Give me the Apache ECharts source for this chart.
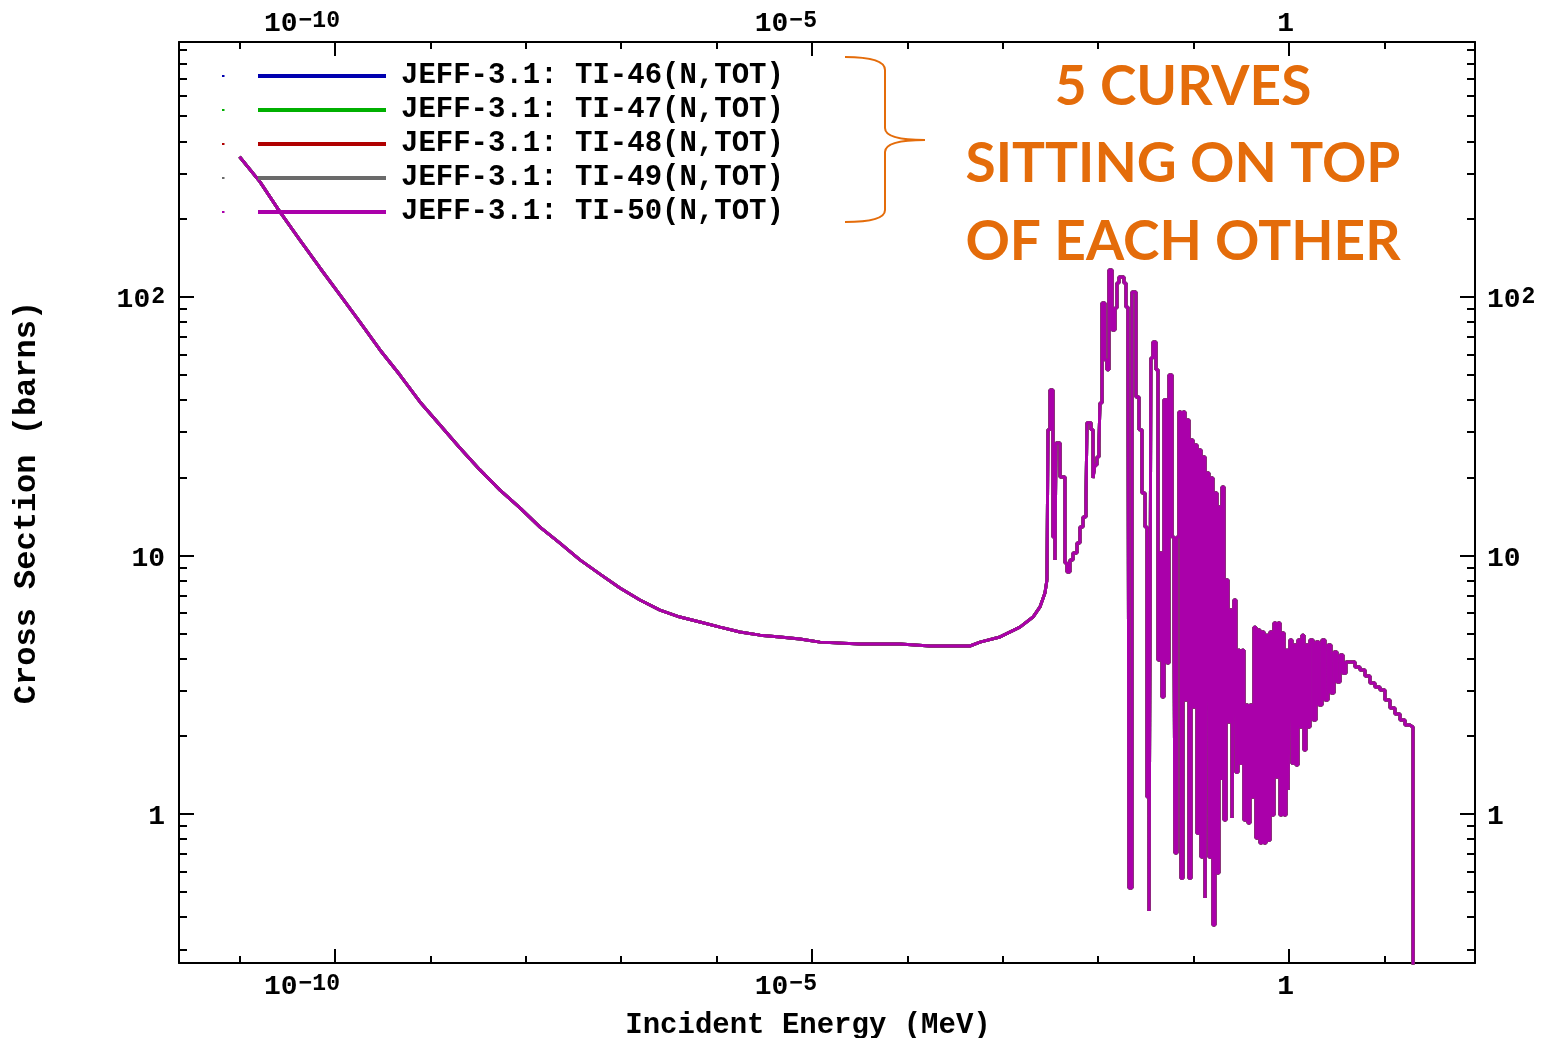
<!DOCTYPE html>
<html>
<head>
<meta charset="utf-8">
<script src="https://cdn.jsdelivr.net/npm/echarts@6/dist/echarts.min.js"></script>
<style>html,body{margin:0;padding:0;background:#fff}#c{width:1545px;height:1038px}</style>
</head>
<body>
<div id="c"></div>
<script>
// log10 of incident energy (MeV) along the traced curve
const logEnergy = [
-11.000,-10.786,-10.577,-10.367,-10.157,-9.948,-9.738,-9.528,-9.319,-9.109,-8.899,-8.690,-8.480,-8.270,-8.061,-7.851,-7.642,-7.432,-7.222,-7.013,-6.803,-6.593,-6.384,-6.174,-5.964,-5.755,-5.545,-5.335,-5.126,-4.916,-4.497,-4.078,-3.763,-3.344,-3.239,-3.029,-2.820,-2.683,-2.610,-2.558,-2.537,
-2.526,-2.505,-2.474,-2.453,-2.442,-2.400,-2.348,-2.327,-2.296,-2.264,-2.222,-2.191,-2.159,-2.128,-2.117,-2.075,-2.054,-2.034,-2.013,-1.992,
-1.981,-1.960,-1.929,-1.908,-1.887,-1.855,-1.824,-1.803,-1.782,-1.730,-1.709,-1.688,-1.677,-1.646,-1.604,-1.572,-1.541,-1.509,-1.488,-1.467,
-1.447,-1.426,-1.394,-1.373,-1.352,-1.331,-1.310,-1.279,-1.258,-1.226,-1.205,-1.195,-1.174,-1.153,-1.132,-1.111,-1.090,-1.069,-1.048,-1.027,
-1.006,-0.985,-0.964,-0.943,-0.922,-0.901,-0.880,-0.860,-0.839,-0.818,-0.797,-0.776,-0.755,-0.734,-0.713,-0.702,-0.681,-0.660,-0.639,-0.618,
-0.597,-0.577,-0.556,-0.535,-0.514,-0.493,-0.472,-0.451,-0.430,-0.409,-0.388,-0.367,-0.346,-0.325,-0.304,-0.283,-0.262,-0.241,-0.220,-0.199,
-0.178,-0.157,-0.136,-0.115,-0.094,-0.073,-0.052,-0.031,-0.010,0.010,0.031,0.052,0.073,0.094,0.115,0.136,0.157,0.178,0.199,0.220,
0.252,0.283,0.314,0.346,0.377,0.409,0.440,0.472,0.503,0.535,0.566,0.597,0.639,0.692,0.744,0.797,0.849,0.901,0.954,1.006,
1.059,1.111,1.164,1.216,1.268,1.300,1.301
];
// log10 of total cross section (barns)
const logSigma = [
2.542,2.445,2.329,2.220,2.112,2.008,1.903,1.795,1.698,1.594,1.505,1.416,1.331,1.253,1.184,1.110,1.048,0.983,0.928,0.874,0.828,0.789,0.762,0.743,0.723,0.704,0.692,0.685,0.677,0.665,0.658,0.658,0.650,0.650,0.665,0.685,0.723,0.762,0.801,0.855,0.905,
1.486,1.640,1.072,0.983,1.435,1.304,0.971,0.936,0.983,1.010,1.048,1.110,1.149,1.226,1.513,1.486,1.300,1.350,1.381,1.435,
1.590,1.977,1.756,1.718,2.104,1.872,1.957,2.054,2.077,2.054,1.961,1.834,-0.286,2.019,1.613,1.486,1.242,1.110,0.066,-0.375,
1.764,1.826,1.718,0.596,1.010,0.453,1.602,0.584,1.698,1.072,0.700,-0.151,1.072,1.555,-0.248,1.555,0.441,1.524,-0.248,1.447,
0.414,1.427,-0.074,1.408,-0.166,1.381,-0.325,1.319,-0.166,1.300,-0.429,1.242,-0.228,1.188,0.132,1.265,-0.023,0.905,0.356,0.789,
-0.015,0.828,0.162,0.634,0.197,0.634,-0.023,0.422,-0.035,0.422,0.066,0.723,-0.093,0.712,-0.112,0.704,-0.112,0.692,-0.101,0.704,
-0.004,0.739,0.143,0.739,-0.004,0.700,-0.004,0.634,0.093,0.673,0.197,0.654,0.190,0.673,0.337,0.692,0.248,0.654,0.337,0.673,
0.364,0.665,0.422,0.673,0.441,0.654,0.468,0.627,0.511,0.615,0.545,0.588,0.588,0.569,0.557,0.534,0.507,0.491,0.480,0.441,
0.410,0.387,0.364,0.344,0.337,0.337,-1.000
];
// index where the smooth (thermal/1-over-v) part ends and the resonance histogram begins
const RESONANCE_START = 40;
const seriesNames = [
  'JEFF-3.1: TI-46(N,TOT)',
  'JEFF-3.1: TI-47(N,TOT)',
  'JEFF-3.1: TI-48(N,TOT)',
  'JEFF-3.1: TI-49(N,TOT)',
  'JEFF-3.1: TI-50(N,TOT)'
];
const seriesColors = ['#0000b0', '#00b000', '#b00000', '#6a6a6a', '#aa00aa'];
// axis ticks (log10 decades)
const xMajorTicks = [-10, -5, 0];
const xMinorTicks = [-11, -9, -8, -7, -6, -4, -3, -2, -1, 1];
const yMajorTicks = [0, 1, 2];
const yMinorMultipliers = [2, 3, 4, 5, 6, 7, 8, 9];
const yDecades = [-1, 0, 1, 2];
const annotationLines = ['5 CURVES', 'SITTING ON TOP', 'OF EACH OTHER'];

const X_MIN = -11.635, X_MAX = 1.95, Y_MIN = -0.576, Y_MAX = 2.986;
const yMinorTicks = [];
yDecades.forEach(d => yMinorMultipliers.forEach(m => {
  const v = d + Math.log10(m);
  if (v > Y_MIN && v < Y_MAX) yMinorTicks.push(v);
}));

const MONO = 'Liberation Mono';
function powLabel(v) {
  v = Math.round(v);
  if (v === 0) return '{b|1}';
  if (v === 1) return '{b|10}';
  const e = v < 0 ? '\u2212' + (-v) : String(v);
  return '{b|10}{s|' + e + '}';
}
const rich = {
  b: { fontFamily: MONO, fontWeight: 'bold', fontSize: 28, lineHeight: 28, verticalAlign: 'middle', color: '#000' },
  s: { fontFamily: MONO, fontWeight: 'bold', fontSize: 23, lineHeight: 12, verticalAlign: 'top', color: '#000', padding: [0, 0, 0, 1] }
};
const axisLineStyle = { color: '#000', width: 2 };

function xAx(pos, major) {
  return {
    type: 'value', position: pos, min: X_MIN, max: X_MAX,
    axisLine: { show: major, onZero: false, lineStyle: axisLineStyle },
    splitLine: { show: false },
    axisTick: { show: true, inside: true, length: major ? 14 : 7, customValues: major ? xMajorTicks : xMinorTicks, lineStyle: axisLineStyle },
    axisLabel: major ? { show: true, customValues: xMajorTicks, formatter: powLabel, rich: rich, align: 'right', padding: [0, -5, 0, 0], margin: pos === 'bottom' ? 10 : 4 } : { show: false }
  };
}
function yAx(pos, major) {
  return {
    type: 'value', position: pos, min: Y_MIN, max: Y_MAX,
    axisLine: { show: major, onZero: false, lineStyle: axisLineStyle },
    splitLine: { show: false },
    axisTick: { show: true, inside: true, length: major ? 15 : 8, customValues: major ? yMajorTicks : yMinorTicks, lineStyle: axisLineStyle },
    axisLabel: major ? { show: true, customValues: yMajorTicks, formatter: powLabel, rich: rich, padding: [6, 0, 0, 0], margin: pos === 'left' ? 14 : 12 } : { show: false }
  };
}

const xAxes = [xAx('bottom', true), xAx('bottom', false), xAx('top', true), xAx('top', false)];
Object.assign(xAxes[0], {
  name: 'Incident Energy (MeV)', nameLocation: 'middle', nameGap: 48,
  nameTextStyle: { fontFamily: MONO, fontWeight: 'bold', fontSize: 29, color: '#000', padding: [0, 38, 0, 0] }
});
const yAxes = [yAx('left', true), yAx('left', false), yAx('right', true), yAx('right', false)];
Object.assign(yAxes[0], {
  name: 'Cross Section (barns)', nameLocation: 'middle', nameGap: 136,
  nameTextStyle: { fontFamily: MONO, fontWeight: 'bold', fontSize: 32, color: '#000' }
});

const smoothPart = logEnergy.slice(0, RESONANCE_START + 1).map((x, i) => [x, logSigma[i]]);
const resonancePart = logEnergy.slice(RESONANCE_START).map((x, i) => [x, logSigma[RESONANCE_START + i]]);
const series = [];
seriesNames.forEach((n, i) => {
  const common = {
    name: n, type: 'line', xAxisIndex: 0, yAxisIndex: 0,
    showSymbol: false, symbol: 'none', clip: true,
    color: seriesColors[i],
    lineStyle: { width: 3, color: seriesColors[i] },
    emphasis: { disabled: true }
  };
  series.push(Object.assign({}, common, { data: smoothPart }));
  series.push(Object.assign({}, common, { data: resonancePart, step: 'end' }));
});

const ORANGE = '#e46c0a';
const braceStyle = { stroke: ORANGE, lineWidth: 2, fill: null };
const graphics = [
  { type: 'bezierCurve', shape: { x1: 845, y1: 57, x2: 885, y2: 70, cpx1: 885, cpy1: 57 }, style: braceStyle },
  { type: 'line', shape: { x1: 885, y1: 70, x2: 885, y2: 128 }, style: braceStyle },
  { type: 'bezierCurve', shape: { x1: 885, y1: 128, x2: 925, y2: 140, cpx1: 885, cpy1: 140 }, style: braceStyle },
  { type: 'bezierCurve', shape: { x1: 925, y1: 140, x2: 885, y2: 152, cpx1: 885, cpy1: 140 }, style: braceStyle },
  { type: 'line', shape: { x1: 885, y1: 152, x2: 885, y2: 210 }, style: braceStyle },
  { type: 'bezierCurve', shape: { x1: 885, y1: 210, x2: 845, y2: 222, cpx1: 885, cpy1: 222 }, style: braceStyle }
].concat(annotationLines.map((t, i) => ({
  type: 'text',
  style: { text: t, x: 1183, y: 87 + i * 77.5, align: 'center', verticalAlign: 'middle',
    fontFamily: 'Lato', fontWeight: 'bold', fontSize: 55, fill: ORANGE }
})));

const chart = echarts.init(document.getElementById('c'), null, { renderer: 'canvas' });
chart.setOption({
  animation: false,
  backgroundColor: '#fff',
  grid: { left: 179, top: 42, right: 70, bottom: 75, containLabel: false, outerBoundsMode: 'none' },
  xAxis: xAxes,
  yAxis: yAxes,
  legend: {
    orient: 'vertical', left: 217, top: 56, itemWidth: 164, itemHeight: 4, itemGap: 4,
    icon: 'path://M0,1h2.5v2h-2.5z M36,0h128v4h-128z',
    textStyle: { fontFamily: MONO, fontWeight: 'bold', fontSize: 29, lineHeight: 30, color: '#000', padding: [0, 0, 0, 10] },
    data: seriesNames
  },
  series: series,
  graphic: graphics
});
</script>
</body>
</html>
